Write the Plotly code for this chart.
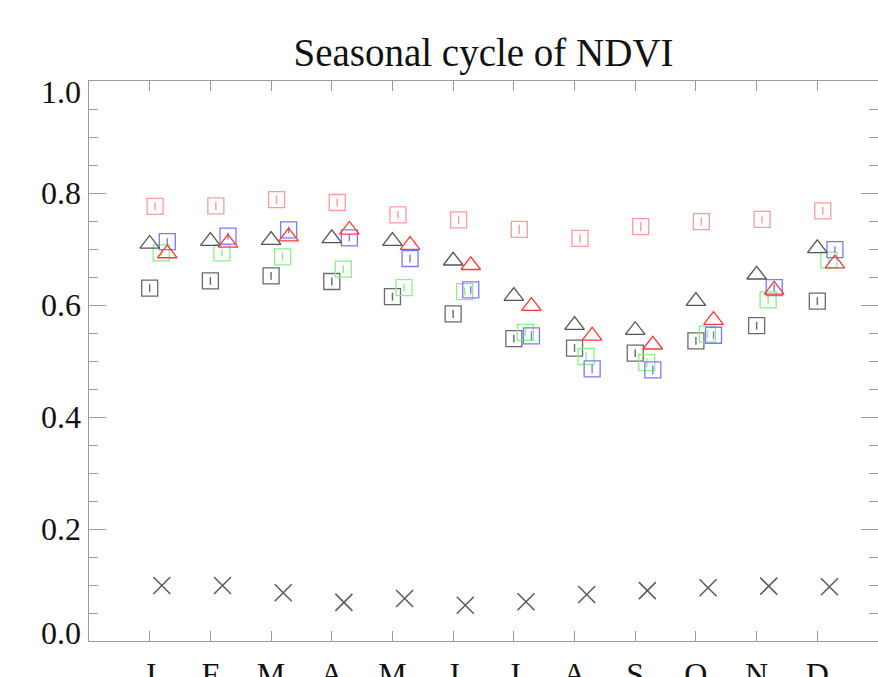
import plotly.graph_objects as go

months = ["J", "F", "M", "A", "M", "J", "J", "A", "S", "O", "N", "D"]
month_idx = list(range(1, 13))

# NDVI seasonal cycles
red_sq = [0.776, 0.777, 0.788, 0.783, 0.761, 0.752, 0.735, 0.719, 0.740, 0.749, 0.753, 0.768]
red_sq_err = [0.007, 0.007, 0.008, 0.007, 0.007, 0.007, 0.008, 0.008, 0.008, 0.007, 0.007, 0.007]
black_sq = [0.630, 0.643, 0.652, 0.642, 0.615, 0.584, 0.540, 0.523, 0.514, 0.536, 0.563, 0.607]
black_sq_err = [0.007, 0.007, 0.007, 0.007, 0.007, 0.007, 0.007, 0.007, 0.007, 0.007, 0.007, 0.007]
green_sq = [0.693, 0.693, 0.686, 0.664, 0.631, 0.624, 0.551, 0.508, 0.497, 0.548, 0.609, 0.680]
green_sq_err = [0.006, 0.006, 0.007, 0.007, 0.007, 0.007, 0.007, 0.008, 0.008, 0.007, 0.007, 0.006]
blue_sq = [0.713, 0.723, 0.734, 0.720, 0.683, 0.627, 0.545, 0.486, 0.484, 0.546, 0.631, 0.699]
blue_sq_err = [0.006, 0.006, 0.006, 0.006, 0.007, 0.007, 0.008, 0.008, 0.008, 0.007, 0.007, 0.006]
black_tri = [0.709, 0.714, 0.716, 0.719, 0.714, 0.679, 0.616, 0.564, 0.555, 0.607, 0.654, 0.701]
red_tri = [0.692, 0.711, 0.722, 0.734, 0.707, 0.671, 0.598, 0.545, 0.529, 0.573, 0.627, 0.674]
cross = [0.099, 0.099, 0.086, 0.069, 0.076, 0.064, 0.070, 0.083, 0.090, 0.095, 0.098, 0.097]

y_tick_vals = [0.0, 0.2, 0.4, 0.6, 0.8, 1.0]
y_tick_text = ["0.0", "0.2", "0.4", "0.6", "0.8", "1.0"]

FONT = "Liberation Serif"
AX = "#9a9a9a"

def shifted(off):
    return [m + off for m in month_idx]

fig = go.Figure()

def sq_trace(y, err, color, off):
    fig.add_trace(go.Scatter(
        x=shifted(off), y=y, mode="markers",
        marker=dict(symbol="square-open", size=16, color=color, line=dict(width=1.3, color=color)),
        error_y=dict(type="data", array=err, visible=True, color=color, thickness=1.4, width=0),
        showlegend=False, hoverinfo="skip"))

def mk_trace(y, symbol, size, color, off, lw=1.3):
    fig.add_trace(go.Scatter(
        x=shifted(off), y=y, mode="markers",
        marker=dict(symbol=symbol, size=size, color=color, line=dict(width=lw, color=color)),
        showlegend=False, hoverinfo="skip"))

sq_trace(red_sq, red_sq_err, "#ff9c9c", 0.09)
sq_trace(black_sq, black_sq_err, "#6a6a6a", 0.0)
sq_trace(green_sq, green_sq_err, "#8cef8c", 0.19)
sq_trace(blue_sq, blue_sq_err, "#7a7aff", 0.29)
mk_trace(black_tri, "triangle-up-open", 17, "#555555", 0.0)
mk_trace(red_tri, "triangle-up-open", 17, "#ff3a3a", 0.29)
mk_trace(cross, "x-thin-open", 17, "#5a5a5a", 0.2, lw=1.5)

annotations = []
for v, t in zip(y_tick_vals, y_tick_text):
    ys = 0
    if v == 0.0:
        ys = 8
    elif v == 1.0:
        ys = -11
    annotations.append(dict(
        x=0, xref="paper", xanchor="right", xshift=-6,
        y=v, yref="y", yanchor="middle", yshift=ys,
        text=t, showarrow=False, font=dict(family=FONT, size=32, color="#111111")))

fig.update_layout(
    width=878, height=677,
    margin=dict(l=89, r=0, t=81, b=36, pad=0, autoexpand=False),
    plot_bgcolor="white", paper_bgcolor="white",
    title=dict(text="Seasonal cycle of NDVI", x=0.5, xref="paper", xanchor="center",
               y=1 - 52 / 677, yref="container", yanchor="middle",
               font=dict(family=FONT, size=39, color="#111111")),
    xaxis=dict(range=[0, 13], tickvals=month_idx, ticktext=months,
               ticks="inside", ticklen=10, tickwidth=1.3, tickcolor=AX,
               showline=True, linecolor=AX, linewidth=1.3, mirror="ticks",
               showgrid=False, zeroline=False, automargin=False,
               ticklabelstandoff=4,
               tickfont=dict(family=FONT, size=32, color="#111111")),
    yaxis=dict(range=[0, 1], tickvals=y_tick_vals, showticklabels=False,
               ticks="inside", ticklen=17, tickwidth=1.3, tickcolor=AX,
               minor=dict(ticks="inside", ticklen=9, tickwidth=1.3, tickcolor=AX,
                          tick0=0, dtick=0.05, showgrid=False),
               showline=True, linecolor=AX, linewidth=1.3, mirror="ticks",
               showgrid=False, zeroline=False, automargin=False),
    annotations=annotations,
)

fig.write_html("out.html")
